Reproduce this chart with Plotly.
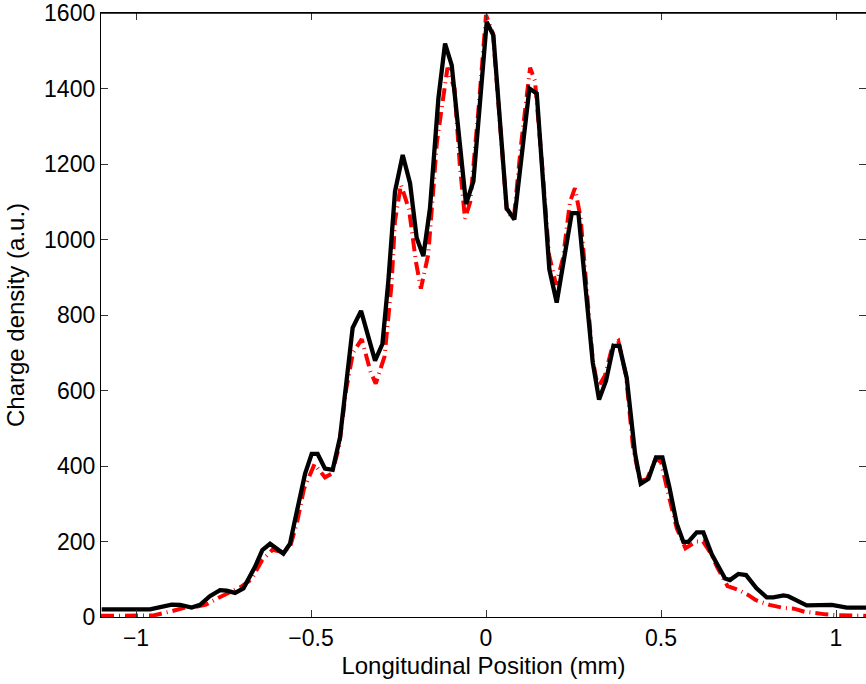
import plotly.graph_objects as go

# Measured (black, solid) charge density
meas_x = [-1.098, -0.96, -0.898, -0.874, -0.841, -0.817, -0.789, -0.76, -0.741, -0.717, -0.693,
          -0.66, -0.639, -0.617, -0.579, -0.56, -0.546, -0.517, -0.498, -0.481, -0.46, -0.438,
          -0.417, -0.381, -0.357, -0.317, -0.296, -0.279, -0.26, -0.238, -0.217, -0.198, -0.179,
          -0.16, -0.136, -0.117, -0.098, -0.057, -0.036, -0.017, 0.002, 0.021, 0.059, 0.081,
          0.124, 0.145, 0.181, 0.202, 0.226, 0.245, 0.264, 0.288, 0.305, 0.323, 0.343, 0.364,
          0.381, 0.402, 0.426, 0.442, 0.464, 0.486, 0.504, 0.524, 0.545, 0.564, 0.578, 0.602,
          0.621, 0.645, 0.683, 0.697, 0.721, 0.743, 0.773, 0.802, 0.821, 0.85, 0.864, 0.916,
          0.964, 0.988, 1.031, 1.09]
meas_y = [20, 20, 33, 32, 25, 32, 55, 71, 70, 64, 76,
          133, 177, 194, 168, 194, 256, 379, 432, 432, 393, 390,
          476, 766, 811, 679, 723, 890, 1127, 1224, 1149, 1004, 956,
          1083, 1374, 1519, 1462, 1094, 1154, 1383, 1576, 1541, 1083, 1053,
          1400, 1387, 921, 833, 960, 1070, 1070, 840, 674, 576, 626, 718,
          718, 634, 432, 353, 366, 423, 423, 344, 247, 199, 199, 224,
          224, 166, 102, 98, 114, 111, 76, 52, 52, 57, 55, 31,
          33, 32, 25, 25]

# Simulated (red, dash-dot) charge density
sim_x = [-1.10, -1.0, -0.95, -0.90, -0.86, -0.83, -0.80, -0.77, -0.74, -0.70, -0.67, -0.64,
         -0.61, -0.58, -0.56, -0.54, -0.52, -0.49, -0.46, -0.44, -0.42, -0.40, -0.38, -0.355,
         -0.33, -0.315, -0.29, -0.27, -0.26, -0.243, -0.22, -0.20, -0.186, -0.165, -0.14, -0.11,
         -0.09, -0.075, -0.06, -0.045, -0.02, 0.0, 0.02, 0.04, 0.06, 0.08, 0.10, 0.126, 0.14,
         0.16, 0.18, 0.20, 0.22, 0.24, 0.254, 0.27, 0.29, 0.305, 0.32, 0.34, 0.362, 0.378, 0.40,
         0.42, 0.44, 0.46, 0.485, 0.50, 0.52, 0.545, 0.57, 0.60, 0.62, 0.64, 0.66, 0.69, 0.72,
         0.75, 0.77, 0.81, 0.85, 0.88, 0.91, 0.94, 0.97, 1.0, 1.04, 1.09]
sim_y = [3, 3, 4, 15, 25, 27, 33, 48, 62, 80, 100, 150,
         178, 172, 185, 250, 340, 405, 370, 380, 450, 600, 700, 736,
         650, 618, 690, 880, 1050, 1145, 1080, 940, 870, 960, 1260, 1455,
         1400, 1200, 1055, 1100, 1360, 1595, 1545, 1300, 1070, 1060, 1250, 1455, 1420,
         1200, 960, 880, 950, 1100, 1136, 1060, 850, 680, 608, 640, 720, 731, 640,
         450, 360, 365, 420, 410, 330, 235, 182, 200, 200, 172, 133, 82, 72,
         58, 45, 32, 24, 22, 14, 10, 7, 5, 4, 3]

x_ticks = [-1, -0.5, 0, 0.5, 1]
x_tick_text = ["\u22121", "\u22120.5", "0", "0.5", "1"]
y_ticks = [0, 200, 400, 600, 800, 1000, 1200, 1400, 1600]

FONT = "Liberation Sans, Arial, sans-serif"
FS_TICK = 23
FS_TITLE = 24

fig = go.Figure()
fig.add_trace(go.Scatter(x=sim_x, y=sim_y, mode="lines",
                         line=dict(color="#ff0000", width=4, dash="13px,5px,1px,5px"),
                         showlegend=False))
fig.add_trace(go.Scatter(x=meas_x, y=meas_y, mode="lines",
                         line=dict(color="#000000", width=4.3),
                         showlegend=False))
# invisible trace to host the right-side mirrored ticks
fig.add_trace(go.Scatter(x=[0], y=[0], yaxis="y2", mode="lines",
                         line=dict(width=0), hoverinfo="skip", showlegend=False))

fig.update_layout(
    width=866, height=684,
    margin=dict(l=101, r=0, t=11, b=67),
    paper_bgcolor="white", plot_bgcolor="white",
    font=dict(family=FONT, size=FS_TICK, color="black"),
    xaxis=dict(range=[-1.1, 1.0857], tickvals=x_ticks, ticktext=x_tick_text,
               ticks="inside", ticklen=7, tickwidth=1, tickcolor="#333",
               showline=True, linecolor="black", linewidth=1.3, mirror="ticks",
               showgrid=False, zeroline=False,
               tickfont=dict(family=FONT, size=FS_TICK, color="black"),
               title=dict(text="Longitudinal Position (mm)", standoff=7,
                          font=dict(family=FONT, size=FS_TITLE, color="black"))),
    yaxis=dict(range=[0, 1600], tickvals=y_ticks,
               ticks="inside", ticklen=7, tickwidth=1, tickcolor="#333",
               showline=True, linecolor="black", linewidth=1.3,
               showgrid=False, zeroline=False, ticklabeloverflow="allow",
               tickfont=dict(family=FONT, size=FS_TICK, color="black"),
               title=dict(text="Charge density (a.u.)", standoff=12,
                          font=dict(family=FONT, size=FS_TITLE, color="black"))),
    yaxis2=dict(range=[0, 1600], tickvals=y_ticks, overlaying="y", side="right",
                ticks="inside", ticklen=7, tickwidth=1, tickcolor="#333",
                showticklabels=False, showline=False, showgrid=False, zeroline=False),
    shapes=[dict(type="line", xref="paper", yref="paper", x0=0, x1=1, y0=1, y1=1,
                 line=dict(color="black", width=1.3), layer="above")],
)

fig.write_html("out.html")
